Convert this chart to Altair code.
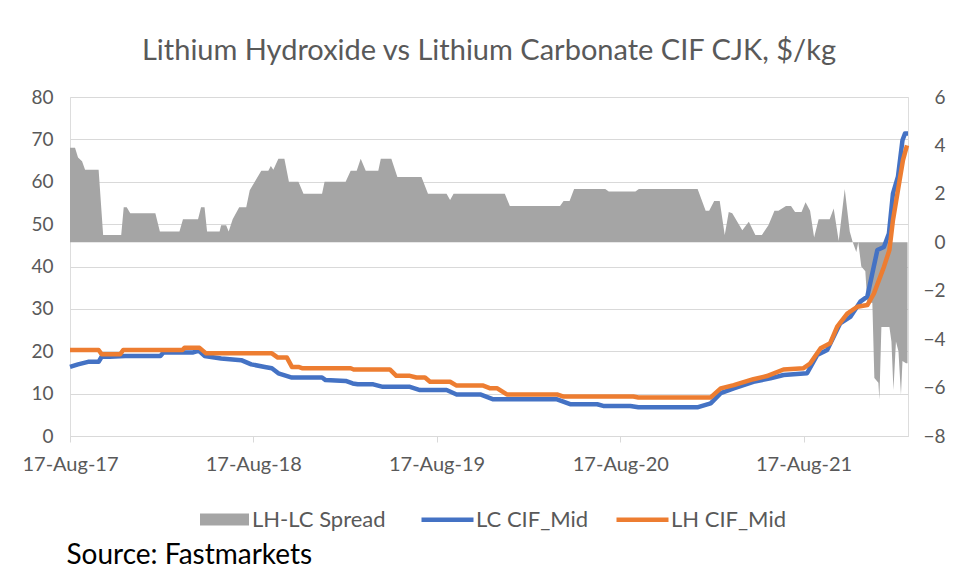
import altair as alt
import pandas as pd

# ---------------- data ----------------
lc_dates = ["2017-08-17", "2017-09-02", "2017-09-22", "2017-10-13", "2017-10-19", "2017-11-04",
            "2017-12-05", "2018-02-13", "2018-02-19", "2018-04-18", "2018-04-26", "2018-05-02",
            "2018-05-12", "2018-06-14", "2018-07-24", "2018-08-13", "2018-09-09", "2018-09-23",
            "2018-10-06", "2018-11-02", "2019-01-01", "2019-01-08", "2019-02-17", "2019-03-03",
            "2019-03-13", "2019-04-13", "2019-05-02", "2019-06-25", "2019-07-15", "2019-09-06",
            "2019-09-26", "2019-11-12", "2019-12-08", "2020-04-13", "2020-05-09", "2020-07-02",
            "2020-07-14", "2020-09-06", "2020-09-22", "2021-01-19", "2021-02-13", "2021-03-05",
            "2021-03-31", "2021-05-09", "2021-06-12", "2021-07-08", "2021-08-24", "2021-09-13",
            "2021-10-03", "2021-10-29", "2021-11-18", "2021-12-08", "2021-12-22", "2022-01-11",
            "2022-01-24", "2022-02-03", "2022-02-11", "2022-02-21", "2022-03-02", "2022-03-07",
            "2022-03-13"]
lc_values = [16.3, 16.9, 17.5, 17.5, 18.7, 18.7,
             18.9, 18.9, 19.7, 19.7, 20.0, 20.0,
             18.9, 18.3, 17.9, 16.9, 16.3, 16.0,
             14.8, 13.8, 13.8, 13.2, 13.0, 12.4,
             12.2, 12.2, 11.6, 11.6, 10.85, 10.85,
             9.8, 9.8, 8.65, 8.65, 7.5, 7.5,
             7.1, 7.1, 6.8, 6.8, 7.7, 10.1,
             11.25, 12.8, 13.6, 14.4, 14.8, 19.1,
             20.3, 26.6, 28.1, 31.7, 32.9, 43.9,
             44.6, 47.8, 57.2, 61.2, 69.8, 71.4,
             71.4]

lh_dates = ["2017-08-17", "2017-10-13", "2017-10-19", "2017-11-25", "2017-12-01", "2018-03-29",
            "2018-04-02", "2018-05-02", "2018-05-15", "2018-09-23", "2018-10-05", "2018-10-23",
            "2018-11-02", "2018-11-15", "2018-11-22", "2019-02-27", "2019-03-05", "2019-05-16",
            "2019-05-29", "2019-06-25", "2019-07-08", "2019-07-25", "2019-08-04", "2019-09-13",
            "2019-09-26", "2019-11-18", "2019-12-02", "2019-12-16", "2020-01-04", "2020-04-13",
            "2020-04-26", "2020-09-12", "2020-09-22", "2021-02-13", "2021-03-05", "2021-03-31",
            "2021-05-09", "2021-06-05", "2021-07-08", "2021-08-17", "2021-08-30", "2021-09-20",
            "2021-10-09", "2021-10-23", "2021-11-12", "2021-12-02", "2021-12-22", "2022-01-04",
            "2022-01-24", "2022-02-04", "2022-02-11", "2022-02-21", "2022-03-03", "2022-03-11"]
lh_values = [20.3, 20.3, 19.3, 19.3, 20.3, 20.3,
             20.8, 20.8, 19.5, 19.5, 18.5, 18.5,
             16.3, 16.3, 16.0, 16.0, 15.7, 15.7,
             14.2, 14.2, 13.8, 13.8, 12.8, 12.8,
             11.9, 11.9, 11.25, 11.25, 9.8, 9.8,
             9.3, 9.3, 9.1, 9.1, 11.25, 12.0,
             13.4, 14.15, 15.7, 16.0, 17.1, 20.7,
             21.9, 25.8, 28.9, 30.5, 30.9, 33.6,
             39.9, 43.9, 50.9, 58.0, 65.1, 68.6]

spread_dates = ["2017-08-17", "2017-08-27", "2017-09-02", "2017-09-10", "2017-09-16", "2017-10-13",
                "2017-10-22", "2017-11-27", "2017-12-02", "2017-12-08", "2017-12-15", "2018-02-03",
                "2018-02-12", "2018-03-23", "2018-03-30", "2018-04-29", "2018-05-05", "2018-05-12",
                "2018-05-17", "2018-06-11", "2018-06-14", "2018-06-24", "2018-06-29", "2018-07-07",
                "2018-07-20", "2018-08-03", "2018-08-10", "2018-08-20", "2018-09-02", "2018-09-16",
                "2018-09-21", "2018-09-26", "2018-10-06", "2018-10-18", "2018-10-27", "2018-11-15",
                "2018-11-25", "2019-01-01", "2019-01-06", "2019-02-17", "2019-02-27", "2019-03-11",
                "2019-03-19", "2019-03-29", "2019-04-23", "2019-04-28", "2019-05-19", "2019-05-31",
                "2019-07-18", "2019-07-31", "2019-09-06", "2019-09-13", "2019-09-20", "2019-12-31",
                "2020-01-10", "2020-04-19", "2020-04-26", "2020-05-08", "2020-05-17", "2020-07-18",
                "2020-07-25", "2020-09-16", "2020-09-23", "2021-01-18", "2021-02-03", "2021-02-10",
                "2021-02-20", "2021-03-03", "2021-03-13", "2021-03-21", "2021-03-28", "2021-04-17",
                "2021-04-30", "2021-05-13", "2021-05-26", "2021-06-08", "2021-06-20", "2021-06-28",
                "2021-07-13", "2021-07-23", "2021-07-31", "2021-08-13", "2021-08-21", "2021-08-30",
                "2021-09-07", "2021-09-16", "2021-10-08", "2021-10-16", "2021-10-26", "2021-11-07",
                "2021-11-17", "2021-11-23", "2021-11-30", "2021-12-04", "2021-12-10", "2021-12-18",
                "2021-12-22", "2022-01-01", "2022-01-05", "2022-01-13", "2022-01-15", "2022-01-19",
                "2022-02-04", "2022-02-08", "2022-02-12", "2022-02-17", "2022-02-22", "2022-02-27",
                "2022-03-02", "2022-03-09", "2022-03-12"]
spread_values = [3.9, 3.9, 3.5, 3.35, 3.0, 3.0,
                 0.3, 0.3, 1.45, 1.45, 1.2, 1.2,
                 0.45, 0.45, 0.95, 0.95, 1.45, 1.45,
                 0.45, 0.45, 0.7, 0.7, 0.45, 0.95,
                 1.45, 1.45, 2.15, 2.5, 2.95, 2.95,
                 3.15, 3.0, 3.45, 3.45, 2.5, 2.5,
                 2.0, 2.0, 2.5, 2.5, 2.95, 2.95,
                 3.45, 2.95, 2.95, 3.45, 3.45, 2.7,
                 2.7, 2.0, 2.0, 1.75, 2.0, 2.0,
                 1.5, 1.5, 1.7, 1.7, 2.2, 2.2,
                 2.1, 2.1, 2.2, 2.2, 1.3, 1.3,
                 1.7, 1.7, 0.3, 1.25, 1.2, 0.5,
                 0.85, 0.3, 0.3, 0.7, 1.3, 1.3,
                 1.5, 1.5, 1.25, 1.25, 1.65, 1.3,
                 0.2, 0.95, 0.95, 1.4, 0.05, 2.2,
                 0.45, 0.0, -0.4, 0.0, -1.0, -1.2,
                 -2.5, -2.5, -5.6, -5.8, -6.5, -3.5,
                 -3.5, -4.1, -6.1, -4.1, -4.5, -6.3,
                 -4.9, -5.0, -5.0]

x_tick_dates = [(2017, 8, 17), (2018, 8, 17), (2019, 8, 17), (2020, 8, 17), (2021, 8, 17)]
x_domain = [(2017, 8, 17), (2022, 3, 13)]
left_ticks = [0, 10, 20, 30, 40, 50, 60, 70, 80]
right_ticks = [-8, -6, -4, -2, 0, 2, 4, 6]

title_text = "Lithium Hydroxide vs Lithium Carbonate CIF CJK, $/kg"
source_text = "Source: Fastmarkets"
spread_name = "LH-LC Spread"
line_names = ["LC CIF_Mid", "LH CIF_Mid"]

# ---------------- tables ----------------
df_spread = pd.DataFrame({"date": spread_dates, "value": spread_values, "series": spread_name})
df_lines = pd.concat([
    pd.DataFrame({"date": lc_dates, "value": lc_values, "series": line_names[0], "order": 0}),
    pd.DataFrame({"date": lh_dates, "value": lh_values, "series": line_names[1], "order": 1}),
], ignore_index=True)

FONT = "Lato"
TEXT = "#595959"
GRID = "#D9D9D9"


def dt(t):
    return alt.DateTime(year=t[0], month=t[1], date=t[2], utc=True)


x_scale = alt.Scale(domain=[dt(t) for t in x_domain], nice=False)
x_axis = alt.Axis(
    values=[dt(t) for t in x_tick_dates],
    labelExpr="utcFormat(datum.value, '%d-%b-%y')",
    labelFlush=False, labelOverlap=False,
    grid=False, domainColor=GRID, tickColor=GRID, tickSize=6,
    labelFontSize=20, labelColor=TEXT, labelPadding=12, labelFont=FONT,
    title=source_text, titleFont=FONT, titleFontSize=28, titleFontWeight="normal",
    titleColor="#000000", titleX=-4, titleY=119, titleAlign="left", titleBaseline="middle",
)

area = alt.Chart(df_spread).mark_area(color="#A5A5A5", interpolate="linear").encode(
    x=alt.X("date:T", scale=x_scale, axis=x_axis),
    y=alt.Y("value:Q", scale=alt.Scale(domain=[-8, 6], nice=False, zero=False),
            axis=alt.Axis(orient="right", values=right_ticks, grid=False, domain=False, ticks=False,
                          labelFontSize=19, labelColor=TEXT, labelFont=FONT, labelPadding=37,
                          labelAlign="right", title=None)),
    y2=alt.datum(0),
    fill=alt.Fill("series:N", scale=alt.Scale(domain=[spread_name], range=["#A5A5A5"]),
                  legend=alt.Legend(orient="none", legendX=130, legendY=398, direction="horizontal",
                                    title=None, symbolType="M-1,-0.25H1V0.25H-1Z", symbolSize=2400,
                                    symbolStrokeWidth=0, labelFontSize=22, labelColor=TEXT,
                                    labelFont=FONT, labelOffset=3)),
)

lines = alt.Chart(df_lines).mark_line(strokeWidth=4.5, strokeJoin="round", interpolate="linear").encode(
    x=alt.X("date:T", scale=x_scale, axis=x_axis),
    y=alt.Y("value:Q", scale=alt.Scale(domain=[0, 80], nice=False),
            axis=alt.Axis(orient="left", values=left_ticks, grid=True, gridColor=GRID, gridWidth=1,
                          domain=False, ticks=False, labelFontSize=19, labelColor=TEXT,
                          labelFont=FONT, labelPadding=17, title=None)),
    stroke=alt.Stroke("series:N", scale=alt.Scale(domain=line_names, range=["#4472C4", "#ED7D31"]),
                      legend=alt.Legend(orient="none", legendX=349, legendY=394, direction="horizontal",
                                        title=None, symbolType="stroke", symbolSize=2704,
                                        symbolStrokeWidth=4.5, labelFontSize=22, labelColor=TEXT,
                                        labelFont=FONT, labelOffset=0, columnPadding=18)),
    order="order:Q",
)

chart = alt.layer(area, lines).resolve_scale(y="independent").properties(
    width=838, height=339,
    padding={"left": 62, "top": 89, "right": 40, "bottom": 139},
    autosize=alt.AutoSizeParams(type="none"),
    title=alt.Title(title_text, font=FONT, fontSize=29, fontWeight="normal", color=TEXT,
                    anchor="middle", frame="group", offset=22),
).configure_view(stroke=None).configure(background="white")

chart.save("out.html", embed_options={"renderer": "svg", "actions": False})
